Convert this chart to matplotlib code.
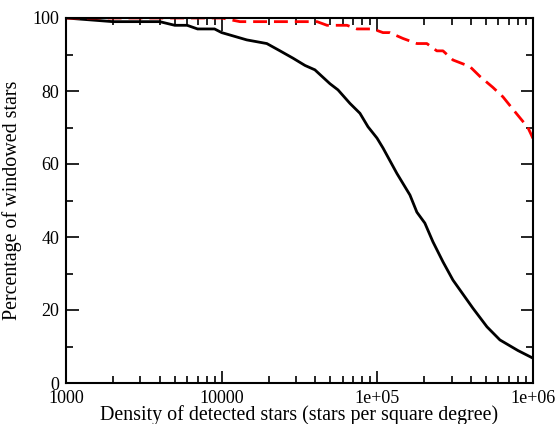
import matplotlib
matplotlib.use("Agg")
import matplotlib.pyplot as plt
from matplotlib.ticker import LogLocator, MultipleLocator, NullFormatter

plt.rcParams['font.family'] = ['Liberation Serif', 'DejaVu Serif']

# black solid curve
black_x = [1000, 2000, 4000, 5000, 6000, 7000, 9000, 10000, 14500, 19500, 23700, 28700,
           34300, 39700, 49600, 55900, 66700, 77300, 87100, 99500, 108700, 133600, 162000,
           179500, 202000, 227500, 264000, 306000, 411000, 506000, 613000, 800000, 1000000]
black_y = [100, 99, 99, 98, 98, 97, 97, 96, 94, 93, 91, 89,
           87, 85.8, 82, 80.3, 76.6, 73.9, 70.2, 67.1, 64.4, 57.4, 51.5,
           46.8, 43.8, 38.7, 33.2, 28.2, 20.5, 15.4, 11.8, 8.9, 6.8]

# red dashed curve
red_x = [1000, 10000, 13100, 41000, 47500, 63800, 74000, 93700, 108700, 120000, 146000,
         179500, 208000, 241000, 264000, 306000, 393000, 456000, 552000, 641000, 743000,
         927000, 1000000]
red_y = [100, 100, 99, 99, 98, 98, 97, 97, 96, 96, 94.4,
         93, 93, 91, 91, 88.5, 86.7, 84, 81, 78.4, 75,
         70, 67]

xticks = [1000, 10000, 100000, 1000000]
xticklabels = ["1000", "10000", "1e+05", "1e+06"]
yticks = [0, 20, 40, 60, 80, 100]

fig = plt.figure(figsize=(5.57, 4.24), dpi=100)
ax = fig.add_axes([66/557, 41/424, (533-66)/557, (383-18)/424])

ax.plot(black_x, black_y, color='black', lw=2.0, solid_joinstyle='miter')
ax.plot(red_x, red_y, color='red', lw=2.0, dashes=(5, 2.5))

ax.set_xscale('log')
ax.set_xlim(1000, 1e6)
ax.set_ylim(0, 100)
ax.set_xticks(xticks)
ax.set_xticklabels(xticklabels)
ax.xaxis.set_minor_locator(LogLocator(base=10, subs=range(2, 10)))
ax.xaxis.set_minor_formatter(NullFormatter())
ax.set_yticks(yticks)
ax.yaxis.set_minor_locator(MultipleLocator(10))

ax.tick_params(which='both', direction='in', top=True, right=True, labelsize=13, width=1.2)
ax.tick_params(which='major', length=9)
ax.tick_params(which='minor', length=5)
ax.tick_params(axis='x', which='major', pad=5)
ax.tick_params(axis='y', which='major', pad=5)
for s in ax.spines.values():
    s.set_linewidth(1.5)

ax.set_xlabel("Density of detected stars (stars per square degree)", fontsize=14.4, labelpad=-1)
ax.set_ylabel("Percentage of windowed stars", fontsize=14.4, labelpad=7)

fig.savefig("out.png", dpi=100)
